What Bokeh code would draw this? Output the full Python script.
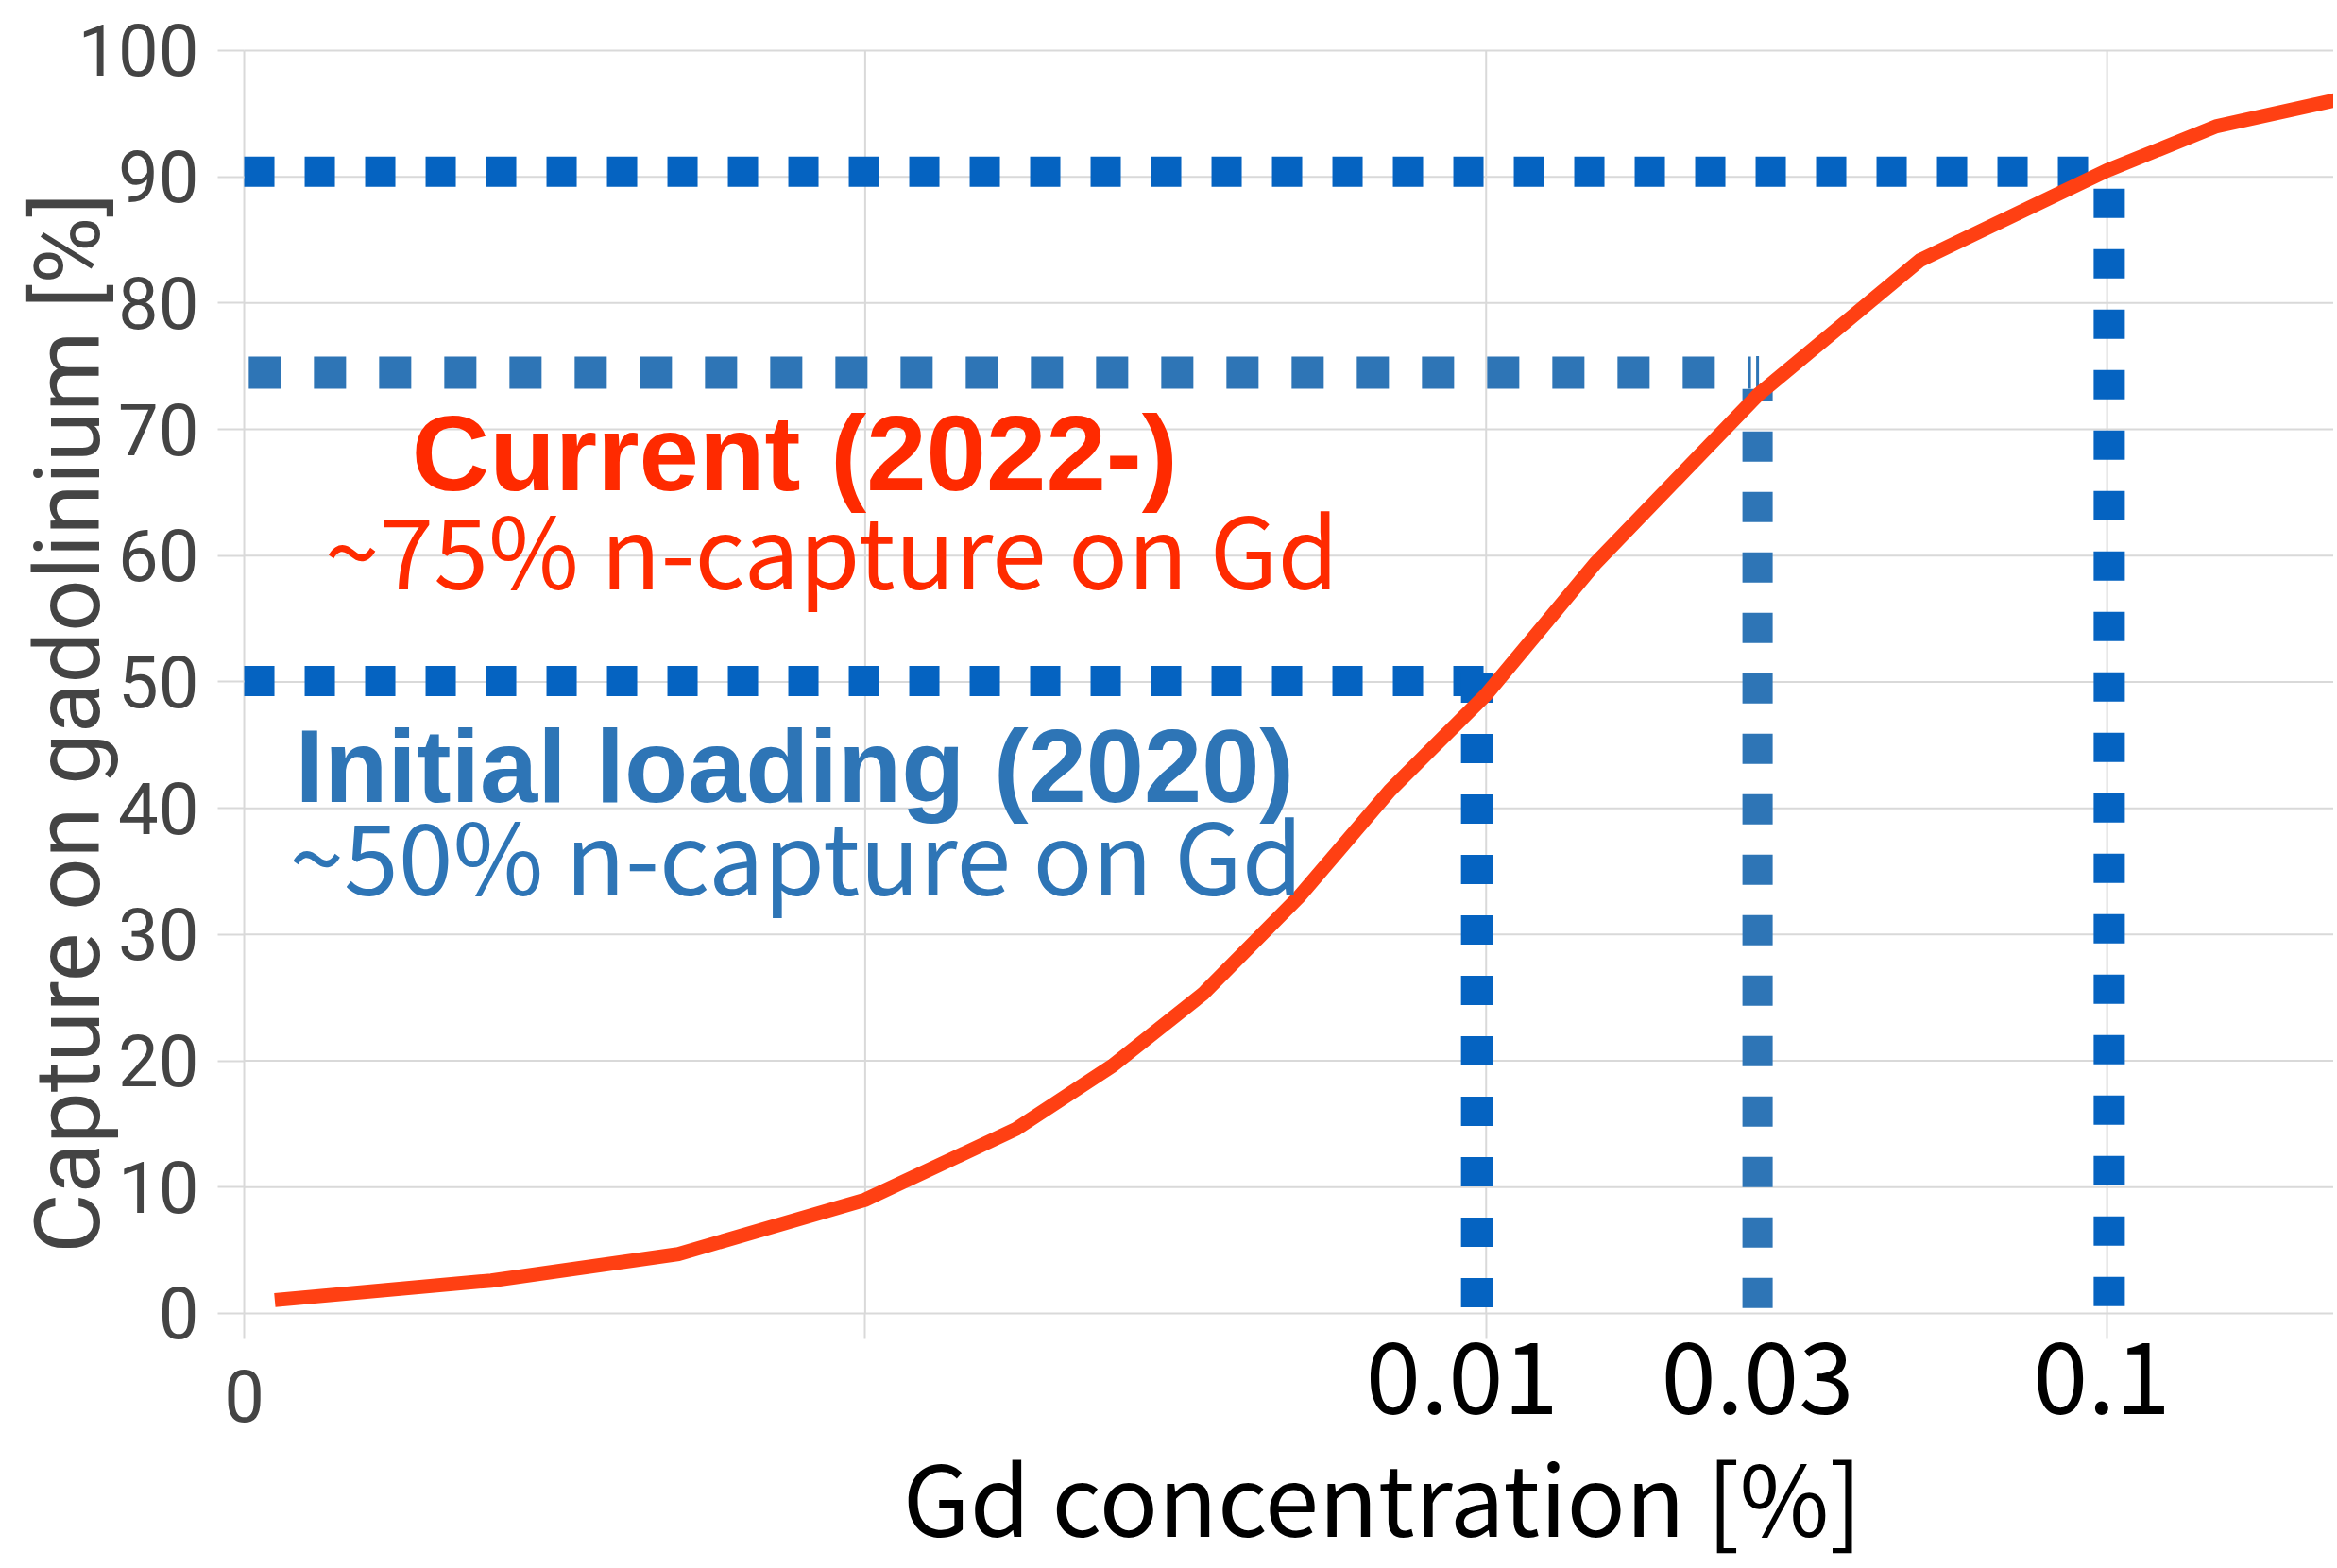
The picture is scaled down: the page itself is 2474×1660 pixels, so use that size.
import math
from bokeh.plotting import figure
from bokeh.models import Range1d, FixedTicker, Label
from bokeh.embed import file_html
from bokeh.resources import INLINE

# ---- data ----
# Gd concentration [%] (log axis) vs capture on gadolinium [%]
gd_conc = [0.000112, 0.00025, 0.0005, 0.001, 0.00175, 0.0025, 0.0035, 0.005,
           0.007, 0.01, 0.015, 0.0275, 0.05, 0.1, 0.15, 0.25]
gd_capture = [1.05, 2.6, 4.7, 9.0, 14.6, 19.6, 25.3, 33.0,
              41.4, 49.0, 59.4, 72.8, 83.4, 90.5, 94.0, 96.4]

y_ticks = [0, 10, 20, 30, 40, 50, 60, 70, 80, 90, 100]
x_grid_ticks = [0.0001, 0.001, 0.01, 0.1]
x_tick_text = {0.0001: "0", 0.001: "", 0.01: "", 0.1: ""}

# guide (read-off) lines: capture level, horizontal start/end, vertical position/top
guide_level = [90.4, 74.5, 50.07]
guide_h_start = [0.0001, 0.0001017, 0.0001]
guide_h_end = [0.0937, 0.0267, 0.0100]
guide_conc = [0.1008, 0.02736, 0.00967]
guide_v_top = [89.05, 73.2, 50.67]
guide_conc_text = ["0.1", "0.03", "0.01"]

notes = [
    ("Current (2022-)", 0.00077, 68.15),
    ("~75% n-capture on Gd", 0.000883, 60.7),
    ("Initial loading (2020)", 0.00077, 43.4),
    ("~50% n-capture on Gd", 0.000774, 36.5),
]
x_title = "Gd concentration [%]"
y_title = "Capture on gadolinium [%]"

# ---- view / layout ----
X_START, X_END = 4.0502e-5, 0.2317
Y_START, Y_END = -19.9, 103.96
x_title_pos = (0.006808, -14.4)
y_title_pos = (5.194e-5, 46.75)
conc_label_y = -5.1

# ---- styles ----
guide_colors = ["#0563c1", "#2e75b6", "#0563c1"]
h_width = [32, 34, 32]
h_dash = ["32 32", "34 35", "32 32"]
v_width = [33, 32, 34]
v_dash = ["31 33", "32 32", "31 33"]
v_dash_offset = [0, 19, 0]
label_dx = [-8, 0, -16]
note_styles = [
    dict(text_color="#ff2a00", text_font="Liberation Sans", text_font_style="bold", text_font_size="114px"),
    dict(text_color="#ff2a00", text_font="Noto Sans CJK JP", text_font_style="normal", text_font_size="104px"),
    dict(text_color="#2e75b6", text_font="Liberation Sans", text_font_style="bold", text_font_size="110px"),
    dict(text_color="#2e75b6", text_font="Noto Sans CJK JP", text_font_style="normal", text_font_size="104px"),
]
grid_color = "#d9d9d9"
gray_text = "#444444"

p = figure(width=2470, height=1656, x_axis_type="log",
           x_range=Range1d(X_START, X_END), y_range=Range1d(Y_START, Y_END),
           output_backend="svg", toolbar_location=None, title=None,
           min_border=0, min_border_left=0, min_border_right=0,
           min_border_top=0, min_border_bottom=0)
p.outline_line_color = None
p.background_fill_color = "white"
p.xgrid.visible = False
p.ygrid.visible = False

# grid lines limited to the plotting area
n_y = len(y_ticks)
n_x = len(x_grid_ticks)
p.segment(x0=[x_grid_ticks[0]] * n_y, y0=y_ticks, x1=[X_END] * n_y, y1=y_ticks,
          line_color=grid_color, line_width=2)
p.segment(x0=x_grid_ticks, y0=[y_ticks[0]] * n_x, x1=x_grid_ticks, y1=[y_ticks[-1]] * n_x,
          line_color=grid_color, line_width=2)

# y axis (placed at the left edge of the grid)
ya = p.yaxis[0]
ya.fixed_location = x_grid_ticks[0]
ya.ticker = FixedTicker(ticks=y_ticks)
ya.axis_line_color = None
ya.major_tick_in = 0
ya.major_tick_out = 28
ya.major_tick_line_color = grid_color
ya.major_tick_line_width = 2
ya.minor_tick_line_color = None
ya.major_label_text_font = "Roboto"
ya.major_label_text_font_size = "76px"
ya.major_label_text_color = gray_text
ya.major_label_standoff = 20

# x axis (placed at capture = 0)
xa = p.xaxis[0]
xa.fixed_location = y_ticks[0]
xa.ticker = FixedTicker(ticks=x_grid_ticks)
xa.major_label_overrides = x_tick_text
xa.axis_line_color = None
xa.major_tick_in = 0
xa.major_tick_out = 27
xa.major_tick_line_color = grid_color
xa.major_tick_line_width = 2
xa.minor_tick_line_color = None
xa.major_label_text_font = "Roboto"
xa.major_label_text_font_size = "76px"
xa.major_label_text_color = gray_text
xa.major_label_standoff = 34

# guide lines
for i in range(len(guide_level)):
    p.line([guide_h_start[i], guide_h_end[i]], [guide_level[i], guide_level[i]],
           line_color=guide_colors[i], line_width=h_width[i], line_dash=h_dash[i],
           line_cap="butt")
    p.line([guide_conc[i], guide_conc[i]], [guide_v_top[i], y_ticks[0]],
           line_color=guide_colors[i], line_width=v_width[i], line_dash=v_dash[i],
           line_dash_offset=v_dash_offset[i], line_cap="butt")
# thin connector above the 0.03 line
p.line([guide_conc[1], guide_conc[1]], [guide_level[1] + 1.3, guide_v_top[1]],
       line_color=guide_colors[1], line_width=3)

# the curve
p.line(gd_conc, gd_capture, line_color="#ff4013", line_width=15, line_join="miter")

# annotations inside the plot
for (txt, x, y), st in zip(notes, note_styles):
    p.add_layout(Label(x=x, y=y, text=txt, text_align="center",
                       text_baseline="middle", **st))

# concentration labels under the axis
for i in range(len(guide_conc)):
    p.add_layout(Label(x=guide_conc[i], y=conc_label_y, x_offset=label_dx[i],
                       text=guide_conc_text[i], text_align="center",
                       text_baseline="middle", text_font="Noto Sans CJK JP",
                       text_font_size="105px", text_color="black"))

# axis titles
p.add_layout(Label(x=x_title_pos[0], y=x_title_pos[1], text=x_title,
                   text_align="center", text_baseline="middle",
                   text_font="Noto Sans CJK JP", text_font_size="103px",
                   text_color="black"))
p.add_layout(Label(x=y_title_pos[0], y=y_title_pos[1], text=y_title,
                   angle=math.pi / 2, text_align="center", text_baseline="middle",
                   text_font="Roboto", text_font_size="97px", text_color=gray_text))

open("out.html", "w").write(file_html(p, INLINE))
